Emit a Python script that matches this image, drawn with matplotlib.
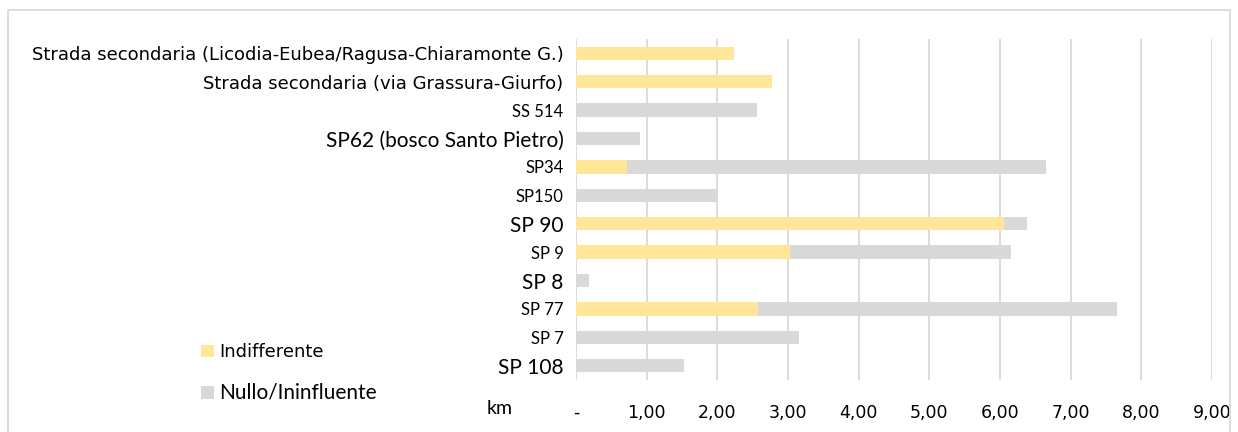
import numpy as np
import matplotlib
matplotlib.use('Agg')
from matplotlib import pyplot as plt
from matplotlib.patches import Rectangle

# categories top -> bottom
strade = ['Strada secondaria (Licodia-Eubea/Ragusa-Chiaramonte G.)',
          'Strada secondaria (via Grassura-Giurfo)',
          'SS 514', 'SP62 (bosco Santo Pietro)', 'SP34', 'SP150',
          'SP 90', 'SP 9', 'SP 8', 'SP 77', 'SP 7', 'SP 108']
indifferente = [2.23, 2.78, 0, 0, 0.72, 0, 6.05, 3.03, 0, 2.58, 0, 0]
nullo = [0, 0, 2.56, 0.91, 5.93, 2.00, 0.33, 3.13, 0.18, 5.08, 3.16, 1.53]
big_labels = ['SP62 (bosco Santo Pietro)', 'SP 90', 'SP 8', 'SP 108']
xticks_lab = ['-', '1,00', '2,00', '3,00', '4,00', '5,00', '6,00', '7,00', '8,00', '9,00']

plt.rcParams['font.family'] = ['DejaVu Sans']

fig = plt.figure(figsize=(12.38, 4.32), dpi=100)
ax = fig.add_axes([576/1238, 1-380/432, 636/1238, 341/432])

y = np.arange(len(strade))
ax.barh(y, indifferente, height=0.47, color='#FFE699', label='Indifferente', zorder=3)
ax.barh(y, nullo, left=indifferente, height=0.47, color='#D9D9D9', label='Nullo/Ininfluente', zorder=3)

ax.set_ylim(len(strade)-0.5, -0.5)
ax.set_xlim(0, 9)
ax.set_yticks(y)
ax.set_yticklabels(strade, fontsize=13)
for t in ax.get_yticklabels():
    if t.get_text() in big_labels:
        t.set_fontsize(15)
        t.set_family('Lato')
    elif not t.get_text().startswith('Strada'):
        t.set_fontsize(12)
        t.set_family('Lato')
ax.set_xticks(np.arange(10))
ax.set_xticklabels(xticks_lab, fontsize=12.5)
ax.tick_params(axis='both', length=0)
ax.tick_params(axis='x', pad=17)
ax.tick_params(axis='y', pad=9)
ax.grid(axis='x', color='#D9D9D9', linewidth=1.3, zorder=0)
for s in ax.spines.values():
    s.set_visible(False)

leg = ax.legend(loc='upper left', bbox_to_anchor=(185/1238, 1-327/432), bbox_transform=fig.transFigure,
                frameon=False, handlelength=0.7, handleheight=0.7, handletextpad=0.3,
                labelspacing=1.2, fontsize=13)
leg.get_texts()[1].set_fontsize(15)
leg.get_texts()[1].set_family('Lato')

fig.text(500/1238, 1-408/432, 'km', fontsize=14, family='Lato', ha='center', va='center')

fig.patches.append(Rectangle((8/1238, -0.05), 1222/1238, 1.05-10/432, transform=fig.transFigure,
                             fill=False, edgecolor='#D9D9D9', linewidth=1.3))

fig.savefig('out.png', dpi=100)
